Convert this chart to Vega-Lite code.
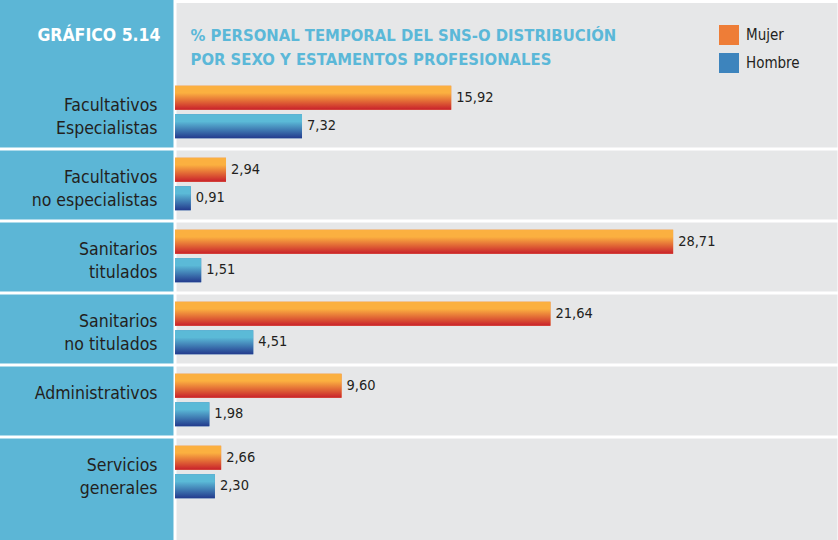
{
  "$schema": "https://vega.github.io/schema/vega-lite/v6.json",
  "width": 664,
  "height": 540,
  "autosize": {"type": "none"},
  "padding": {"left": 175, "top": 1.5, "right": 0, "bottom": 0},
  "background": "#5cb6d6",
  "config": {
    "view": {"fill": "#e6e7e8", "stroke": "#ffffff", "strokeWidth": 3},
    "font": "DejaVu Sans Condensed, Roboto, sans-serif",
    "locale": {"number": {"decimal": ",", "thousands": ".", "grouping": [3], "currency": ["", " €"]}}
  },
  "data": {
    "values": [
      {"estamento": "Facultativos|Especialistas", "sexo": "Mujer", "valor": 15.92},
      {"estamento": "Facultativos|Especialistas", "sexo": "Hombre", "valor": 7.32},
      {"estamento": "Facultativos|no especialistas", "sexo": "Mujer", "valor": 2.94},
      {"estamento": "Facultativos|no especialistas", "sexo": "Hombre", "valor": 0.91},
      {"estamento": "Sanitarios|titulados", "sexo": "Mujer", "valor": 28.71},
      {"estamento": "Sanitarios|titulados", "sexo": "Hombre", "valor": 1.51},
      {"estamento": "Sanitarios|no titulados", "sexo": "Mujer", "valor": 21.64},
      {"estamento": "Sanitarios|no titulados", "sexo": "Hombre", "valor": 4.51},
      {"estamento": "Administrativos", "sexo": "Mujer", "valor": 9.60},
      {"estamento": "Administrativos", "sexo": "Hombre", "valor": 1.98},
      {"estamento": "Servicios|generales", "sexo": "Mujer", "valor": 2.66},
      {"estamento": "Servicios|generales", "sexo": "Hombre", "valor": 2.30}
    ]
  },
  "encoding": {
    "y": {
      "field": "estamento",
      "type": "nominal",
      "sort": ["Facultativos|Especialistas", "Facultativos|no especialistas", "Sanitarios|titulados", "Sanitarios|no titulados", "Administrativos", "Servicios|generales"],
      "scale": {"range": [74.5, 506.5], "paddingInner": 0, "paddingOuter": 0},
      "axis": {
        "title": "GRÁFICO 5.14",
        "titleAngle": 0,
        "titleAlign": "right",
        "titleBaseline": "alphabetic",
        "titleX": -15,
        "titleY": 38.5,
        "titleColor": "#ffffff",
        "titleFontSize": 17.5,
        "titleFontWeight": "bold",
        "labelExpr": "split(datum.label, '|')",
        "labelFontSize": 17.5,
        "labelColor": "#231f20",
        "labelAlign": "right",
        "labelBaseline": "middle",
        "labelLineHeight": 23,
        "labelPadding": -158,
        "labelOffset": -6.5,
        "labelLimit": 0,
        "tickBand": "extent",
        "ticks": true,
        "tickSize": 176,
        "tickColor": "#ffffff",
        "tickWidth": 3,
        "tickOpacity": {"condition": {"test": "datum.index > 0.9 || datum.index < 0", "value": 0}, "value": 1},
        "grid": true,
        "gridColor": "#ffffff",
        "gridWidth": 3,
        "gridOpacity": {"condition": {"test": "datum.index > 0.9 || datum.index < 0", "value": 0}, "value": 1},
        "domain": false
      }
    },
    "yOffset": {
      "field": "sexo",
      "type": "nominal",
      "sort": ["Mujer", "Hombre"],
      "scale": {"paddingInner": 0.158, "paddingOuter": 0.342}
    },
    "x": {
      "field": "valor",
      "type": "quantitative",
      "scale": {"domain": [0, 38.27], "nice": false},
      "axis": {
        "orient": "top",
        "labels": false,
        "ticks": false,
        "domain": false,
        "grid": false,
        "title": ["% PERSONAL TEMPORAL DEL SNS-O DISTRIBUCIÓN", "POR SEXO Y ESTAMENTOS PROFESIONALES"],
        "titleX": 15,
        "titleY": 38.5,
        "titleAlign": "left",
        "titleBaseline": "alphabetic",
        "titleColor": "#5bb8d8",
        "titleFontSize": 16.5,
        "titleFontWeight": "bold",
        "titleLineHeight": 24
      }
    }
  },
  "layer": [
    {
      "mark": {"type": "bar", "cornerRadius": 0, "strokeWidth": 0},
      "encoding": {
        "color": {
          "field": "sexo",
          "type": "nominal",
          "scale": {"domain": ["Mujer", "Hombre"], "range": ["#ee7d37", "#3d84bd"]},
          "legend": {
            "title": null,
            "orient": "none",
            "legendX": 544,
            "legendY": 23.5,
            "padding": 0,
            "symbolType": "square",
            "symbolSize": 400,
            "symbolStrokeWidth": 0,
            "symbolOpacity": 1,
            "labelFontSize": 15,
            "labelColor": "#231f20",
            "labelOffset": 7,
            "rowPadding": 8
          }
        }
      }
    },
    {
      "mark": {"type": "bar", "cornerRadius": 0, "strokeWidth": 0},
      "encoding": {
        "fill": {
          "condition": {"test": "datum.sexo === 'Mujer'", "value": {"gradient": "linear", "x1": 0, "y1": 0, "x2": 0, "y2": 1, "stops": [{"offset": 0, "color": "#fbb040"}, {"offset": 0.3, "color": "#fbb040"}, {"offset": 1, "color": "#c8202b"}]}},
          "value": {"gradient": "linear", "x1": 0, "y1": 0, "x2": 0, "y2": 1, "stops": [{"offset": 0, "color": "#5bbad7"}, {"offset": 0.3, "color": "#5bbad7"}, {"offset": 1, "color": "#233a8d"}]}
        }
      }
    },
    {
      "mark": {"type": "text", "align": "left", "dx": 5, "baseline": "middle", "fontSize": 14.5, "color": "#231f20"},
      "encoding": {
        "text": {"field": "valor", "type": "quantitative", "format": ".2f"}
      }
    }
  ]
}
